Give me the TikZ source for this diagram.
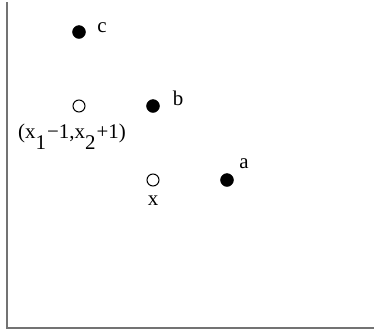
\documentclass[tikz,border=0pt]{standalone}
\usepackage{fontspec}
\setmainfont{Liberation Serif}
\usetikzlibrary{positioning}
\begin{document}
\begin{tikzpicture}[x=1bp,y=-1bp,
    axis/.style={line width=2bp,black!55},
    dot/.style={circle,draw,fill,inner sep=0pt,minimum size=13bp},
    hole/.style={circle,draw,fill=white,inner sep=0pt,minimum size=12bp,line width=1bp},
    lbl/.style={font=\fontsize{21}{23}\selectfont,inner sep=0pt,anchor=base}]
  \useasboundingbox (0,0) rectangle (374,330);
  % axes
  \coordinate (top) at (7,2);
  \coordinate (origin) at (7,328);
  \coordinate (right) at (374,328);
  \draw[axis] (top) -- (origin) -- (right);
  % points
  \node[dot]  (c) at (79,32) {};
  \node[hole] (shift) at (79,106) {};
  \node[dot]  (b) at (153,106) {};
  \node[hole] (x) at (153,180) {};
  \node[dot]  (a) at (227,180) {};
  % labels
  \node[lbl] (clabel) at (102,32) {c};
  \node[lbl] (blabel) at (178,105) {b};
  \node[lbl] (alabel) at (244,168) {a};
  \node[lbl] (xlabel) at (153,205) {x};
  \node[lbl] (shiftlabel) at (72,138) {(x\raisebox{-11bp}{1}\kern1bp−1,x\raisebox{-11bp}{2}\kern1bp+1)};
\end{tikzpicture}
\end{document}
